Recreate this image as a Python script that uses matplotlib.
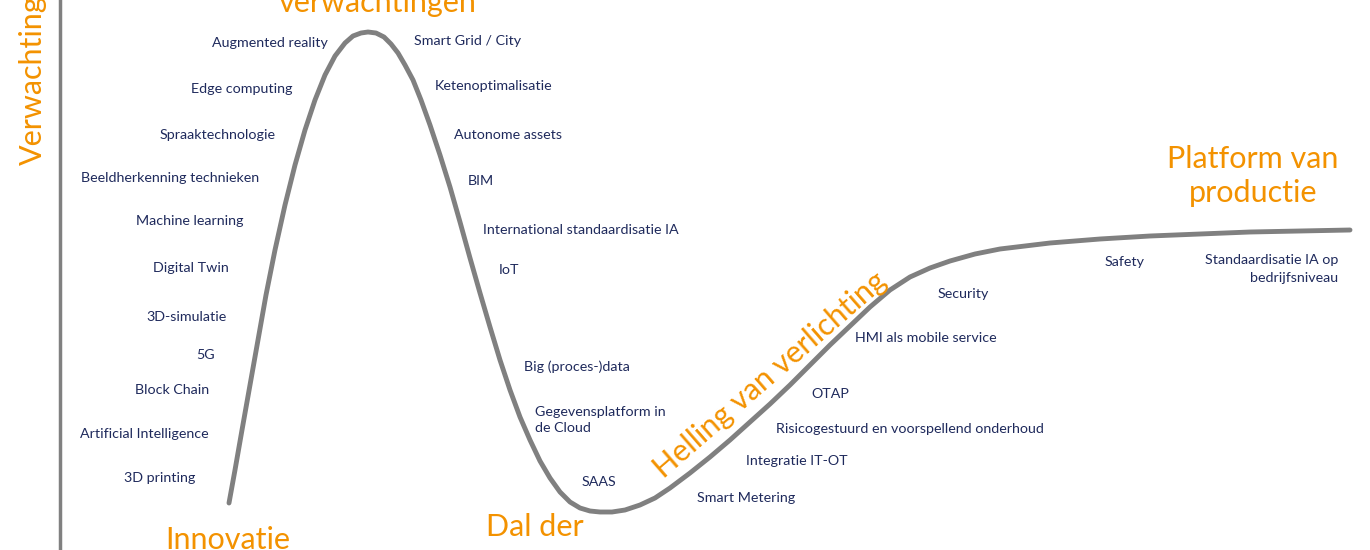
import matplotlib
matplotlib.use("Agg")
import matplotlib.pyplot as plt

curve_x = [229,235,242,250,258,266,275,285,295,305,315,325,335,345,353,361,368,376,384,391,398,405,413,421,430,440,450,460,470,480,490,500,510,520,530,540,550,560,570,580,590,600,612,625,640,655,670,690,710,730,750,770,790,810,830,850,870,890,910,930,950,975,1000,1050,1100,1150,1200,1250,1300,1350]
curve_y = [503,470,430,385,340,295,250,205,165,130,100,75,56,43,36,33,32,33,37,44,53,65,80,100,125,155,187,222,258,293,327,360,390,417,440,461,478,492,502,508,511,512,512,510,505,498,488,473,457,440,422,404,385,365,345,326,307,290,277,268,261,254,249,243,239,236,234,232,231,230]

center_labels = ["Augmented reality","Edge computing","Spraaktechnologie","Beeldherkenning technieken",
                 "Machine learning","Digital Twin","3D-simulatie","5G","Block Chain",
                 "Artificial Intelligence","3D printing"]
center_x = [270,242,218,170,190,191,187,206,172,144,160]
center_y = [43,89,135,178,221,268,317,355,390,434,478]

left_labels = ["Smart Grid / City","Ketenoptimalisatie","Autonome assets","BIM",
               "International standaardisatie IA","IoT","Big (proces-)data",
               "Gegevensplatform in\nde Cloud","SAAS","Smart Metering","Integratie IT-OT",
               "Risicogestuurd en voorspellend onderhoud","OTAP","HMI als mobile service",
               "Security","Safety"]
left_x = [414,435,454,468,483,499,524,535,582,697,746,776,811,855,938,1105]
left_y = [41,86,135,181,230,270,367,420,482,498,461,429,394,338,294,262]

navy = "#1F2A5C"
orange = "#F39200"
plt.rcParams['font.family'] = ['Lato', 'DejaVu Sans']

fig = plt.figure(figsize=(13.7, 5.5), dpi=100)
ax = fig.add_axes([0, 0, 1, 1])
ax.set_xlim(0, 1370)
ax.set_ylim(550, 0)
ax.axis('off')

ax.plot([60, 60], [0, 550], color="#808080", lw=2.5)
ax.plot(curve_x, curve_y, color="#808080", lw=3.5, solid_capstyle='round', solid_joinstyle='round')

for t, x, y in zip(center_labels, center_x, center_y):
    ax.text(x, y, t, ha='center', va='center', fontsize=10.3, color=navy)
for t, x, y in zip(left_labels, left_x, left_y):
    ax.text(x, y, t, ha='left', va='center', fontsize=10.3, color=navy, linespacing=1.5)
ax.text(1338, 269, "Standaardisatie IA op\nbedrijfsniveau", ha='right', va='center',
        fontsize=10.3, color=navy, multialignment='right', linespacing=1.5)

ax.text(378, 3, "verwachtingen", ha='center', va='center', fontsize=22, color=orange)
ax.text(228, 540, "Innovatie", ha='center', va='center', fontsize=22, color=orange)
ax.text(535, 527, "Dal der", ha='center', va='center', fontsize=22, color=orange)
ax.text(1253, 176, "Platform van\nproductie", ha='center', va='center', fontsize=22,
        color=orange, linespacing=1.25)
ax.text(33, 80, "Verwachting", ha='center', va='center', rotation=90, fontsize=22, color=orange)
ax.text(770, 375, "Helling van verlichting", ha='center', va='center', rotation=41,
        fontsize=22, color=orange)

fig.savefig("out.png", dpi=100)
